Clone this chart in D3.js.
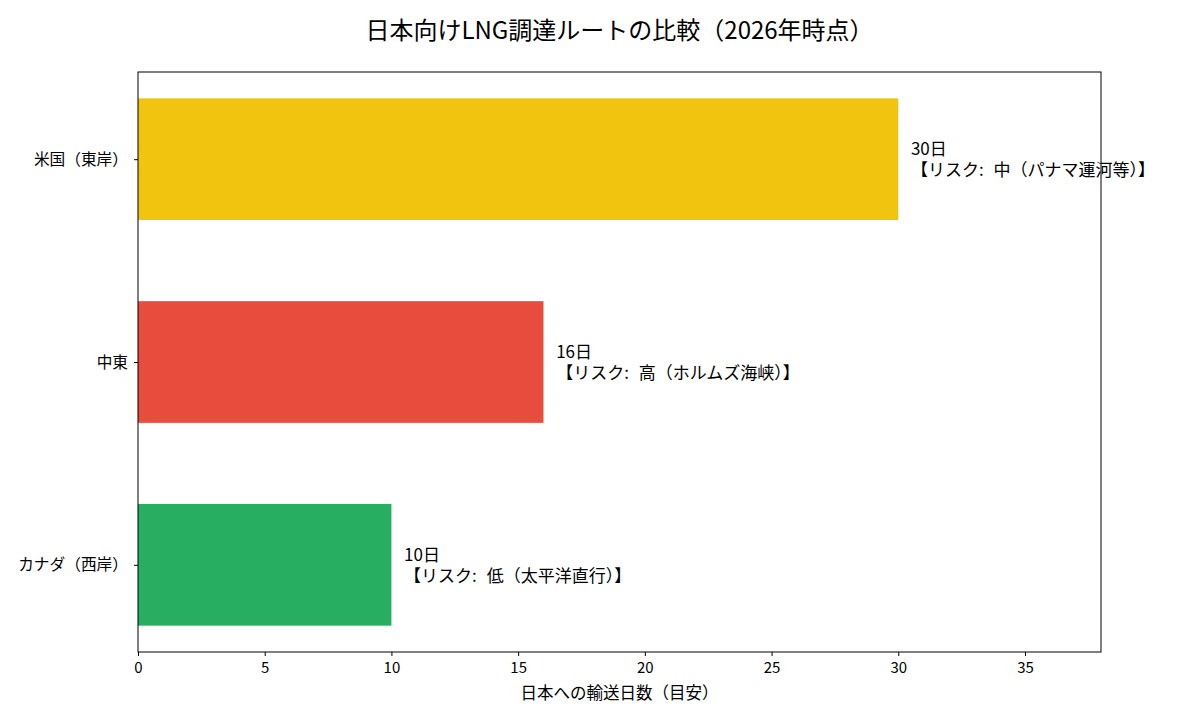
<!DOCTYPE html>
<html>
<head>
<meta charset="utf-8">
<script src="https://cdn.jsdelivr.net/npm/d3@7"></script>
<style>
  body { margin: 0; background: #fff; }
  text { font-family: "Noto Sans CJK JP", "Noto Sans", sans-serif; }
</style>
</head>
<body>
<svg id="chart"></svg>
<script>
const width = 1200;
const height = 720;

// data
const routes = ["米国（東岸）", "中東", "カナダ（西岸）"];
const days = [30, 16, 10];
const risks = ["中（パナマ運河等）", "高（ホルムズ海峡）", "低（太平洋直行）"];
const colors = ["#f1c40f", "#e74c3c", "#27ae60"];
const xTicks = [0, 5, 10, 15, 20, 25, 30, 35];

const margin = {top: 72, right: 99, bottom: 68, left: 138};

const svg = d3.select("#chart")
  .attr("width", width)
  .attr("height", height);

const x = d3.scaleLinear()
  .domain([0, 38])
  .range([margin.left, width - margin.right]);

// categories at 0,1,2 with matplotlib-like padding
const y = d3.scaleLinear()
  .domain([-0.43, 2.43])
  .range([margin.top, height - margin.bottom]);

const barH = y(0.6) - y(0);

// bars
svg.append("g")
  .selectAll("rect")
  .data(routes)
  .enter().append("rect")
  .attr("x", x(0))
  .attr("y", (d, i) => y(i) - barH / 2)
  .attr("width", (d, i) => x(days[i]) - x(0))
  .attr("height", barH)
  .attr("fill", (d, i) => colors[i]);

// value labels (two lines)
const labels = svg.append("g")
  .selectAll("g")
  .data(routes)
  .enter().append("g")
  .attr("transform", (d, i) => `translate(${x(days[i] + 0.5)}, ${y(i)})`);

labels.append("text")
  .attr("y", -4)
  .attr("font-size", 17)
  .text((d, i) => days[i] + "日");

labels.append("text")
  .attr("y", 17)
  .attr("font-size", 17)
  .attr("word-spacing", 6)
  .text((d, i) => "【リスク: " + risks[i] + "】");

// frame
svg.append("rect")
  .attr("x", margin.left)
  .attr("y", margin.top)
  .attr("width", width - margin.left - margin.right)
  .attr("height", height - margin.top - margin.bottom)
  .attr("fill", "none")
  .attr("stroke", "#000")
  .attr("stroke-width", 1);

// x axis
const xAxis = d3.axisBottom(x).tickValues(xTicks).tickSize(4).tickPadding(6);
svg.append("g")
  .attr("transform", `translate(0, ${height - margin.bottom})`)
  .call(xAxis)
  .call(g => g.select(".domain").remove())
  .call(g => g.selectAll("text").attr("font-size", 15).attr("fill", "#000").style("font-family", "'Noto Sans CJK JP', sans-serif"));

// y axis
const yAxis = d3.axisLeft(y).tickValues([0, 1, 2]).tickFormat(i => routes[i]).tickSize(4).tickPadding(6);
svg.append("g")
  .attr("transform", `translate(${margin.left}, 0)`)
  .call(yAxis)
  .call(g => g.select(".domain").remove())
  .call(g => g.selectAll("text").attr("font-size", 15.7).attr("fill", "#000").style("font-family", "'Noto Sans CJK JP', sans-serif"));

// axis title
svg.append("text")
  .attr("x", (margin.left + width - margin.right) / 2)
  .attr("y", 699)
  .attr("text-anchor", "middle")
  .attr("font-size", 16.5)
  .text("日本への輸送日数（目安）");

// title
svg.append("text")
  .attr("x", (margin.left + width - margin.right) / 2)
  .attr("y", 39)
  .attr("text-anchor", "middle")
  .attr("font-size", 24)
  .text("日本向けLNG調達ルートの比較（2026年時点）");
</script>
</body>
</html>
